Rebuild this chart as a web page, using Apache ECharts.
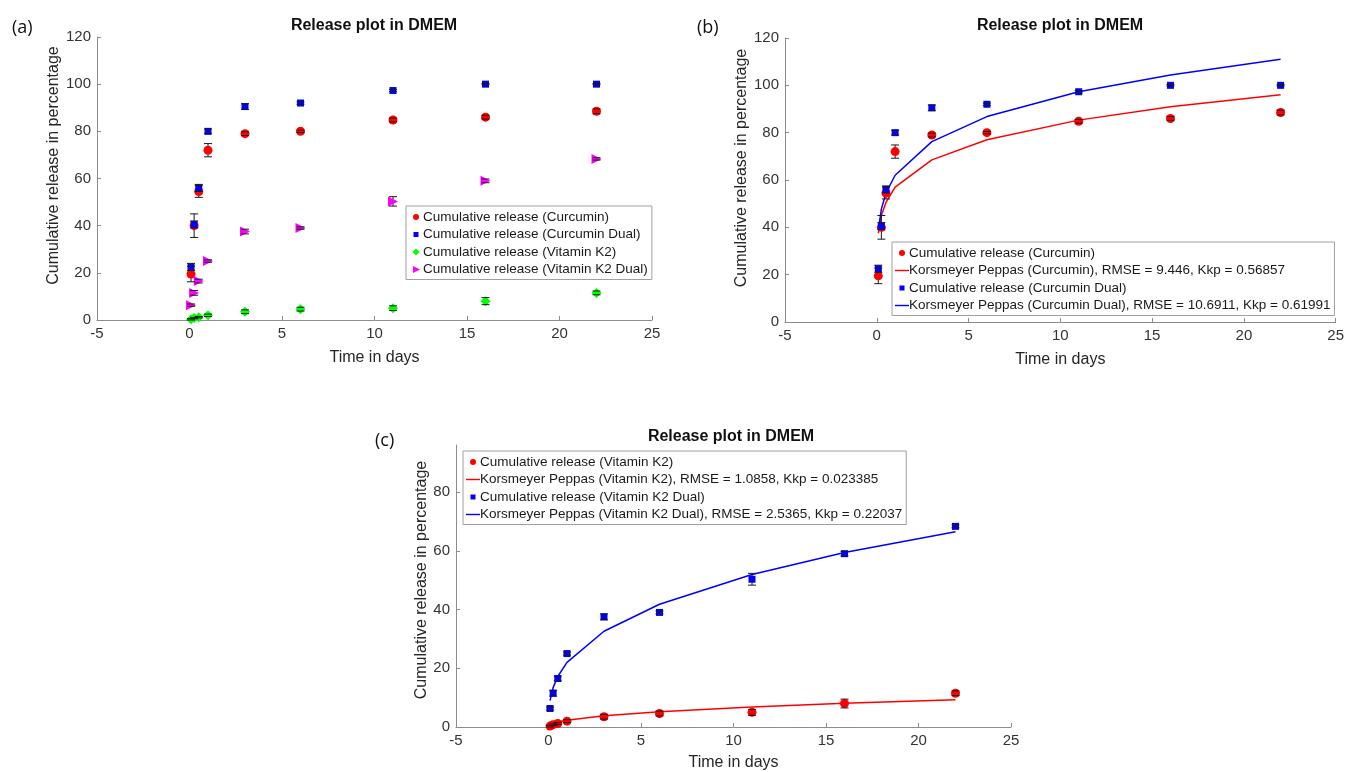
<!DOCTYPE html>
<html><head><meta charset="utf-8">
<script src="https://cdn.jsdelivr.net/npm/echarts@6/dist/echarts.min.js"></script>
<style>html,body{margin:0;padding:0;background:#fff}#c{width:1347px;height:772px}</style>
</head><body><div id="c"></div>
<script>
// ---- data ----
const days = [0.083, 0.25, 0.5, 1, 3, 6, 11, 16, 22];
const xTicks = [-5, 0, 5, 10, 15, 20, 25];

const curcumin      = [19.5, 40, 54.5, 72, 79, 80, 84.8, 86, 88.5];
const curcuminErr   = [3.3, 5, 2.5, 2.8, 0.8, 0.5, 0.8, 0.8, 1];
const curcuminDual    = [22.5, 40.5, 56, 80, 90.5, 92, 97.3, 100, 100];
const curcuminDualErr = [1.5, 1.5, 1.5, 1, 1.2, 0.5, 0.5, 0.3, 0.3];
const vitK2      = [0.3, 0.8, 1.2, 2, 3.5, 4.6, 5, 8, 11.5];
const vitK2Err   = [0.3, 0.3, 0.3, 0.5, 0.8, 0.8, 1, 1.5, 0.8];
const vitK2Dual    = [6.3, 11.5, 16.5, 25, 37.5, 39, 50.3, 59, 68.3];
const vitK2DualErr = [0.5, 1, 0.8, 0.5, 1, 0.5, 2, 0.8, 0.5];

// Korsmeyer-Peppas fitted curves, read at each time point
const kpCurcumin     = [37.5, 45, 50.5, 57, 68.5, 77, 85.3, 91, 96];
const kpCurcuminDual = [38.8, 47.7, 54.5, 62, 76.2, 86.8, 97.3, 104.4, 111];
const kpVitK2        = [0.8, 1.3, 1.7, 2.3, 3.8, 5.2, 6.8, 8.1, 9.3];
const kpVitK2Dual    = [9, 13.4, 17.2, 22, 32.6, 41.8, 51.9, 59.4, 66.5];

const names = {
  cur: 'Cumulative release (Curcumin)',
  curD: 'Cumulative release (Curcumin Dual)',
  k2: 'Cumulative release (Vitamin K2)',
  k2D: 'Cumulative release (Vitamin K2 Dual)',
  kpCur: 'Korsmeyer Peppas (Curcumin), RMSE = 9.446, Kkp = 0.56857',
  kpCurD: 'Korsmeyer Peppas (Curcumin Dual), RMSE = 10.6911, Kkp = 0.61991',
  kpK2: 'Korsmeyer Peppas (Vitamin K2), RMSE = 1.0858, Kkp = 0.023385',
  kpK2D: 'Korsmeyer Peppas (Vitamin K2 Dual), RMSE = 2.5365, Kkp = 0.22037'
};
const titleText = 'Release plot in DMEM';
const xName = 'Time in days';
const yName = 'Cumulative release in percentage';

// ---- styles ----
const RED = '#ff0000', BLUE = '#0000ff', GREEN = '#00ff00', MAG = '#ff00ff';
const FONT = 'Liberation Sans, Arial, sans-serif';
const TRI = 'path://M0,0 L10,5 L0,10 Z';
// legend icons (bounding box fixed to 14x8 by the leading moves)
const IC_CIRCLE = 'path://M0,0 M14,8 M4,4 A3,3 0 1 1 10,4 A3,3 0 1 1 4,4 Z';
const IC_SQUARE = 'path://M0,0 M14,8 M4.5,1.5 L9.5,1.5 L9.5,6.5 L4.5,6.5 Z';
const IC_DIAMOND = 'path://M0,0 M14,8 M7,0.5 L10.5,4 L7,7.5 L3.5,4 Z';
const IC_TRI = 'path://M0,0 M14,8 M4,0.5 L11,4 L4,7.5 Z';
const IC_LINE = 'path://M0,0 M14,8 M0,3.3 L14,3.3 L14,4.7 L0,4.7 Z';

function pairs(ys) { return days.map((d, i) => [d, ys[i]]); }
function errPairs(ys, es) { return days.map((d, i) => [d, ys[i] - es[i], ys[i] + es[i]]); }

const errStyle = { stroke: '#1a1a1a', lineWidth: 1 };
function stemRender(params, api) {
  const p1 = api.coord([api.value(0), api.value(1)]), p2 = api.coord([api.value(0), api.value(2)]);
  return { type: 'line', shape: { x1: p1[0], y1: p1[1], x2: p2[0], y2: p2[1] }, style: errStyle };
}
function capRender(params, api) {
  const p1 = api.coord([api.value(0), api.value(1)]), p2 = api.coord([api.value(0), api.value(2)]);
  const w = 4;
  return { type: 'group', children: [
    { type: 'line', shape: { x1: p1[0] - w, y1: p1[1], x2: p1[0] + w, y2: p1[1] }, style: errStyle },
    { type: 'line', shape: { x1: p2[0] - w, y1: p2[1], x2: p2[0] + w, y2: p2[1] }, style: errStyle }
  ]};
}
let errCount = 0;
function errSeries(idx, ys, es) {
  errCount++;
  const base = { type: 'custom', xAxisIndex: idx, yAxisIndex: idx, data: errPairs(ys, es),
    encode: { x: 0, y: [1, 2] }, silent: true };
  return [
    Object.assign({}, base, { name: 'errorstem-' + errCount, renderItem: stemRender, z: 3 }),
    Object.assign({}, base, { name: 'errorcap-' + errCount, renderItem: capRender, z: 5 })
  ];
}
function scatter(idx, name, ys, color, symbol, size, rot) {
  return { type: 'scatter', name, xAxisIndex: idx, yAxisIndex: idx, data: pairs(ys),
    symbol, symbolSize: size, symbolRotate: rot || 0, itemStyle: { color, opacity: 1 }, z: 4 };
}
function fitLine(idx, name, ys, color) {
  return { type: 'line', name, xAxisIndex: idx, yAxisIndex: idx, data: pairs(ys),
    symbol: 'none', lineStyle: { color, width: 1.5 }, itemStyle: { color }, z: 2 };
}

const axisCol = '#8c8c8c';
function xAxis(idx, gap) {
  return { type: 'value', gridIndex: idx, min: xTicks[0], max: xTicks[xTicks.length - 1], interval: 5,
    name: xName, nameLocation: 'middle', nameGap: gap,
    nameTextStyle: { fontFamily: FONT, fontSize: 16, color: '#262626' },
    axisLine: { show: true, onZero: false, lineStyle: { color: axisCol } },
    axisTick: { show: true, inside: true, length: 4, lineStyle: { color: axisCol } },
    axisLabel: { fontFamily: FONT, fontSize: 15, color: '#333', margin: 6 },
    splitLine: { show: false } };
}
function yAxis(idx, max, gap, shift) {
  return { type: 'value', gridIndex: idx, min: 0, max, interval: 20,
    name: yName, nameLocation: 'middle', nameGap: gap, nameRotate: 90,
    nameTextStyle: { fontFamily: FONT, fontSize: 16, color: '#262626', padding: [0, 0, 0, shift] },
    axisLine: { show: true, onZero: false, lineStyle: { color: axisCol } },
    axisTick: { show: true, inside: true, length: 4, lineStyle: { color: axisCol } },
    axisLabel: { fontFamily: FONT, fontSize: 15, color: '#333', margin: 6, showMaxLabel: max % 20 === 0 },
    splitLine: { show: false } };
}
function legend(left, top, items) {
  return { left, top, orient: 'vertical', itemGap: 3.5, itemWidth: 14, itemHeight: 8,
    padding: [4, 4, 3, 3], borderColor: '#a0a0a0', borderWidth: 1, backgroundColor: '#fff',
    textStyle: { fontFamily: FONT, fontSize: 13.5, lineHeight: 14, color: '#1a1a1a', padding: [0, 0, 0, -5] },
    selectedMode: false, data: items };
}
const titleStyle = { fontFamily: FONT, fontSize: 16, fontWeight: 'bold', color: '#111' };
const panelStyle = { fontFamily: 'Open Sans, sans-serif', fontSize: 18, fontWeight: 'normal', color: '#111' };

const k2c = names.k2 + ' ';   // panel (c) entries use other markers than panel (a)
const k2Dc = names.k2D + ' ';

const option = {
  animation: false,
  backgroundColor: '#fff',
  title: [
    { text: titleText, left: 369, top: 13, textAlign: 'center', textStyle: titleStyle },
    { text: titleText, left: 1055, top: 13, textAlign: 'center', textStyle: titleStyle },
    { text: titleText, left: 726, top: 424, textAlign: 'center', textStyle: titleStyle },
    { text: '(a)', left: 7, top: 14, textStyle: panelStyle },
    { text: '(b)', left: 692, top: 14, textStyle: panelStyle },
    { text: '(c)', left: 370, top: 427, textStyle: panelStyle }
  ],
  grid: [
    { left: 97, top: 37, width: 555, height: 283 },
    { left: 785, top: 38, width: 555, height: 284 },
    { left: 456, top: 445, width: 555, height: 283 }
  ],
  xAxis: [xAxis(0, 30), xAxis(1, 30), xAxis(2, 28)],
  yAxis: [yAxis(0, 120, 26, 26), yAxis(1, 120, 31, 24), yAxis(2, 96, 26, 12)],
  legend: [
    legend(406, 206, [
      { name: names.cur, icon: IC_CIRCLE },
      { name: names.curD, icon: IC_SQUARE },
      { name: names.k2, icon: IC_DIAMOND },
      { name: names.k2D, icon: IC_TRI }
    ]),
    legend(892, 242, [
      { name: names.cur, icon: IC_CIRCLE },
      { name: names.kpCur, icon: IC_LINE },
      { name: names.curD, icon: IC_SQUARE },
      { name: names.kpCurD, icon: IC_LINE }
    ]),
    legend(463, 451, [
      { name: k2c, icon: IC_CIRCLE },
      { name: names.kpK2, icon: IC_LINE },
      { name: k2Dc, icon: IC_SQUARE },
      { name: names.kpK2D, icon: IC_LINE }
    ])
  ],
  series: [
    // (a)
    ...errSeries(0, curcumin, curcuminErr),
    ...errSeries(0, curcuminDual, curcuminDualErr),
    ...errSeries(0, vitK2, vitK2Err),
    ...errSeries(0, vitK2Dual, vitK2DualErr),
    scatter(0, names.cur, curcumin, RED, 'circle', 9),
    scatter(0, names.curD, curcuminDual, BLUE, 'rect', 7),
    scatter(0, names.k2, vitK2, GREEN, 'diamond', 10),
    scatter(0, names.k2D, vitK2Dual, MAG, TRI, 10),
    // (b)
    ...errSeries(1, curcumin, curcuminErr),
    ...errSeries(1, curcuminDual, curcuminDualErr),
    scatter(1, names.cur, curcumin, RED, 'circle', 9),
    fitLine(1, names.kpCur, kpCurcumin, RED),
    scatter(1, names.curD, curcuminDual, BLUE, 'rect', 7),
    fitLine(1, names.kpCurD, kpCurcuminDual, BLUE),
    // (c)
    ...errSeries(2, vitK2, vitK2Err),
    ...errSeries(2, vitK2Dual, vitK2DualErr),
    scatter(2, k2c, vitK2, RED, 'circle', 9),
    fitLine(2, names.kpK2, kpVitK2, RED),
    scatter(2, k2Dc, vitK2Dual, BLUE, 'rect', 7),
    fitLine(2, names.kpK2D, kpVitK2Dual, BLUE)
  ]
};
const chart = echarts.init(document.getElementById('c'), null, { renderer: 'canvas' });
chart.setOption(option);
</script>
</body></html>
